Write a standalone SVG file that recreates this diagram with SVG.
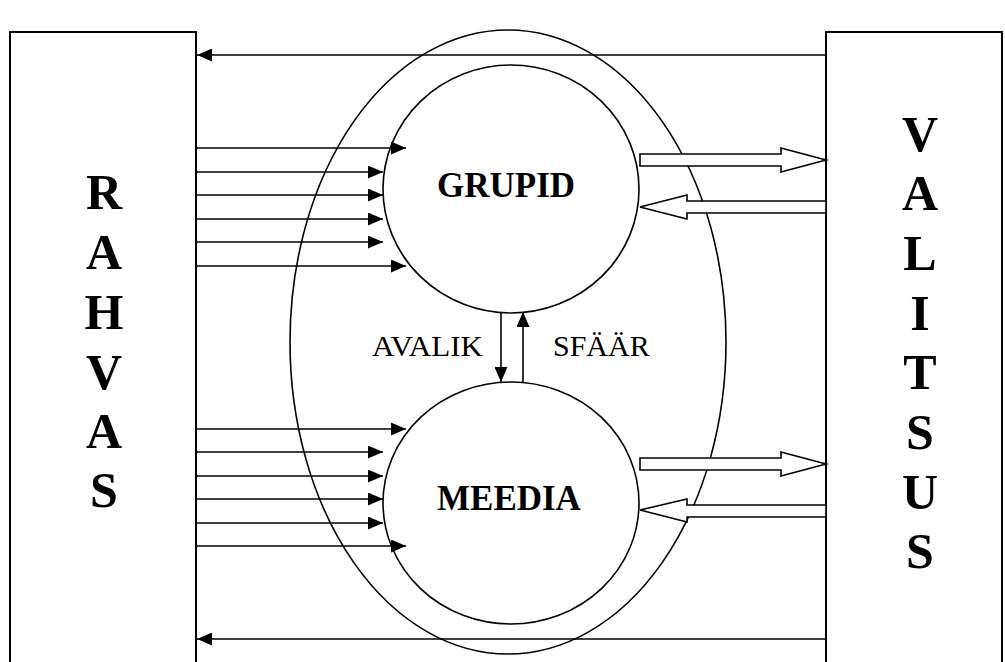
<svg xmlns="http://www.w3.org/2000/svg" width="1005" height="662" viewBox="0 0 1005 662">
<style>
.ln{stroke:#000;stroke-width:1.6;fill:none}
.bx{stroke:#000;stroke-width:2;fill:#fff}
.ho{stroke:#000;stroke-width:1.6;fill:#fff}
.big{font-family:"Liberation Serif","Times New Roman",serif;font-weight:bold;font-size:50px;text-anchor:middle}
.mid{font-family:"Liberation Serif","Times New Roman",serif;font-weight:bold;font-size:35px}
.sm{font-family:"Liberation Serif","Times New Roman",serif;font-size:30px}
</style>
<defs>
<marker id="ah" markerWidth="15" markerHeight="13" refX="15" refY="6.5" orient="auto" markerUnits="userSpaceOnUse">
<path d="M0,0 L15,6.5 L0,13 Z" fill="#000"/>
</marker>
</defs>
<rect width="1005" height="662" fill="#fff"/>
<g id="rahvas">
<rect class="bx" x="10" y="32" width="186" height="640"/>
<text class="big" x="104" y="209">R</text>
<text class="big" x="104" y="269">A</text>
<text class="big" x="104" y="329">H</text>
<text class="big" x="104" y="389">V</text>
<text class="big" x="104" y="448">A</text>
<text class="big" x="104" y="507">S</text>
</g>
<g id="valitsus">
<rect class="bx" x="826" y="32" width="176" height="640"/>
<text class="big" x="920" y="151">V</text>
<text class="big" x="920" y="210">A</text>
<text class="big" x="920" y="270">L</text>
<text class="big" x="920" y="330">I</text>
<text class="big" x="920" y="389">T</text>
<text class="big" x="920" y="449">S</text>
<text class="big" x="920" y="509">U</text>
<text class="big" x="920" y="568">S</text>
</g>
<g id="avalik-sfaar">
<ellipse class="ln" cx="508" cy="342" rx="218" ry="312"/>
<text class="sm" x="372" y="356" textLength="111" lengthAdjust="spacingAndGlyphs">AVALIK</text>
<text class="sm" x="553" y="356">SFÄÄR</text>
</g>
<g id="grupid">
<ellipse class="ln" cx="511" cy="189" rx="128" ry="124"/>
<text class="mid" x="437" y="197">GRUPID</text>
</g>
<g id="meedia">
<ellipse class="ln" cx="511" cy="503" rx="128" ry="121"/>
<text class="mid" x="437" y="510">MEEDIA</text>
</g>
<g id="connectors">
<line class="ln" x1="826" y1="55" x2="197" y2="55" marker-end="url(#ah)"/>
<line class="ln" x1="826" y1="639" x2="197" y2="639" marker-end="url(#ah)"/>
<line class="ln" x1="196" y1="148" x2="406" y2="148" marker-end="url(#ah)"/>
<line class="ln" x1="196" y1="172" x2="383" y2="172" marker-end="url(#ah)"/>
<line class="ln" x1="196" y1="195" x2="383" y2="195" marker-end="url(#ah)"/>
<line class="ln" x1="196" y1="219" x2="383" y2="219" marker-end="url(#ah)"/>
<line class="ln" x1="196" y1="242" x2="383" y2="242" marker-end="url(#ah)"/>
<line class="ln" x1="196" y1="266" x2="406" y2="266" marker-end="url(#ah)"/>
<line class="ln" x1="196" y1="429" x2="406" y2="429" marker-end="url(#ah)"/>
<line class="ln" x1="196" y1="452" x2="383" y2="452" marker-end="url(#ah)"/>
<line class="ln" x1="196" y1="476" x2="383" y2="476" marker-end="url(#ah)"/>
<line class="ln" x1="196" y1="499" x2="383" y2="499" marker-end="url(#ah)"/>
<line class="ln" x1="196" y1="523" x2="383" y2="523" marker-end="url(#ah)"/>
<line class="ln" x1="196" y1="546" x2="406" y2="546" marker-end="url(#ah)"/>
<line class="ln" x1="501" y1="312" x2="501" y2="382" marker-end="url(#ah)"/>
<line class="ln" x1="523" y1="382" x2="523" y2="312" marker-end="url(#ah)"/>
<path class="ho" d="M640,154 L781,154 L781,148 L826,160 L781,172 L781,166 L640,166 Z"/>
<path class="ho" d="M826,201 L687,201 L687,195 L640,207 L687,219 L687,213 L826,213 Z"/>
<path class="ho" d="M640,458 L781,458 L781,452 L826,464 L781,476 L781,470 L640,470 Z"/>
<path class="ho" d="M826,505 L687,505 L687,499 L640,510 L687,522 L687,517 L826,517 Z"/>
</g>
</svg>
